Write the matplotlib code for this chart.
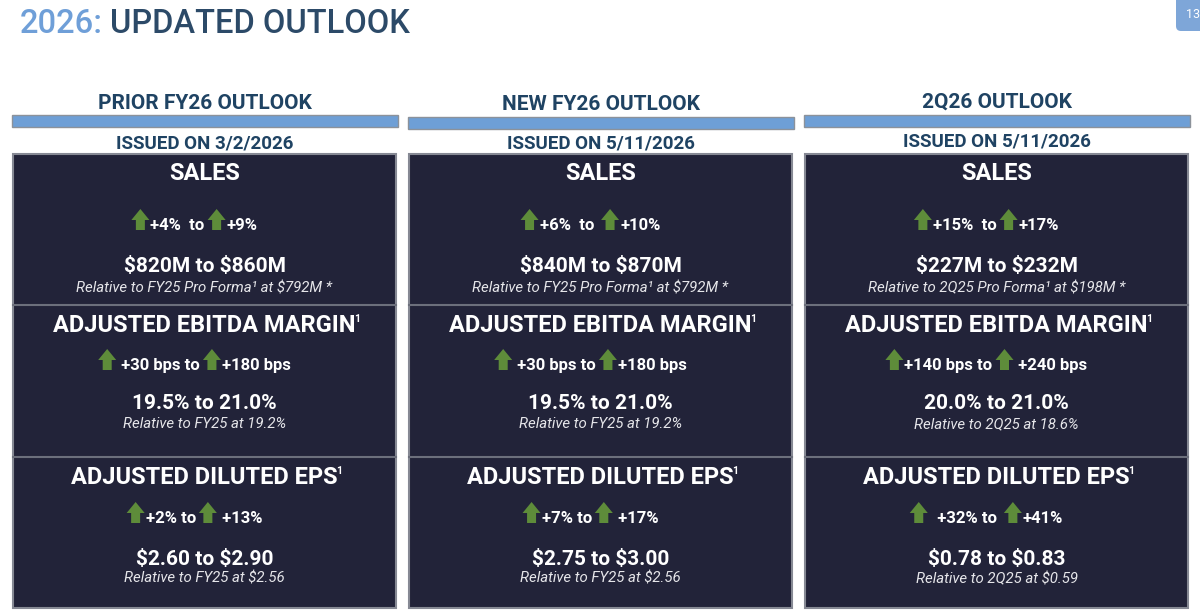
import matplotlib
matplotlib.use("Agg")
import matplotlib.pyplot as plt
from matplotlib.patches import Rectangle, Polygon, FancyBboxPatch

plt.rcParams['font.family'] = ['Roboto', 'DejaVu Sans']
plt.rcParams['text.parse_math'] = False

# ---- data ----
columns = ["PRIOR FY26 OUTLOOK", "NEW FY26 OUTLOOK", "2Q26 OUTLOOK"]
issued = ["ISSUED ON 3/2/2026", "ISSUED ON 5/11/2026", "ISSUED ON 5/11/2026"]

sections = ["SALES", "ADJUSTED EBITDA MARGIN", "ADJUSTED DILUTED EPS"]
section_note = ["", "1", "1"]

# growth lines: (low text, high text)
sales_growth = [("+4%  to", "+9%"), ("+6%  to ", "+10%"), ("+15%  to", "+17%")]
ebitda_growth = [(" +30 bps to", "+180 bps"), (" +30 bps to", "+180 bps"), ("+140 bps to", " +240 bps")]
eps_growth = [("+2% to", " +13%"), ("+7% to", " +17%"), ("  +32% to ", "+41%")]

sales_range = ["$820M to $860M", "$840M to $870M", "$227M to $232M"]
ebitda_range = ["19.5% to 21.0%", "19.5% to 21.0%", "20.0% to 21.0%"]
eps_range = ["$2.60 to $2.90", "$2.75 to $3.00", "$0.78 to $0.83"]

sales_rel = ["Relative to FY25 Pro Forma\u00b9 at $792M *",
             "Relative to FY25 Pro Forma\u00b9 at $792M *",
             "Relative to 2Q25 Pro Forma\u00b9 at $198M *"]
ebitda_rel = ["Relative to FY25 at 19.2%", "Relative to FY25 at 19.2%", "Relative to 2Q25 at 18.6%"]
eps_rel = ["Relative to FY25 at $2.56", "Relative to FY25 at $2.56", "Relative to 2Q25 at $0.59"]

growth = [sales_growth, ebitda_growth, eps_growth]
ranges = [sales_range, ebitda_range, eps_range]
rels = [sales_rel, ebitda_rel, eps_rel]

# ---- colours ----
NAVY = "#222339"
HEAD = "#1f4363"
BAR = "#6e9fd6"
GREEN = "#5e8c3a"
LIGHT = "#6f9fd8"
BORDER = "#868994"

fig = plt.figure(figsize=(12, 6.15), dpi=100)
ax = fig.add_axes([0, 0, 1, 1])
ax.set_xlim(0, 1200)
ax.set_ylim(615, 0)
ax.axis("off")

# title
t1 = ax.text(20, 33, "2026:", fontsize=23.5, fontweight="medium", color=LIGHT, va="baseline")
fig.canvas.draw()
r = fig.canvas.get_renderer()
inv = ax.transData.inverted()


def width_of(t):
    bb = t.get_window_extent(renderer=r)
    p0 = inv.transform((bb.x0, bb.y0))
    p1 = inv.transform((bb.x1, bb.y1))
    return p1[0] - p0[0]


x_after = 20 + width_of(t1)
ax.text(x_after + 7, 33, "UPDATED OUTLOOK", fontsize=23.5, fontweight="medium",
        color="#2c4a68", va="baseline")

# page number tab
ax.add_patch(FancyBboxPatch((1176, -10), 32, 41, boxstyle="round,pad=0,rounding_size=5",
                            fc="#7ea6d8", ec="none"))
ax.text(1186, 18, "13", fontsize=9, color="white", va="baseline", ha="left")

panel_x = [13, 409, 805]
panel_w = 383
header_base = [109, 110, 108]
bar_top = [115, 117, 115]
issued_base = [148, 149, 147]
top, bottom = 154, 608
dividers = [305, 457]

# baselines inside each section
title_base = [180, 332, 484]
grow_base = [230, 370, 523]
range_base = [272, 409, 565]
rel_base = [292, 428, 583]


def arrow(x, base):
    # block up-arrow with bottom on the text baseline
    w, h = 18, 21
    hh = 11
    sw = 9
    pts = [(x, base - h + hh), (x + w / 2, base - h), (x + w, base - h + hh),
           (x + w / 2 + sw / 2, base - h + hh), (x + w / 2 + sw / 2, base),
           (x + w / 2 - sw / 2, base), (x + w / 2 - sw / 2, base - h + hh)]
    ax.add_patch(Polygon(pts, closed=True, fc=GREEN, ec="none", zorder=3))
    return w


for c in range(3):
    x0 = panel_x[c]
    cx = x0 + panel_w / 2
    ax.text(cx, header_base[c], columns[c], fontsize=15, fontweight="bold", color=HEAD,
            ha="center", va="baseline")
    ax.add_patch(Rectangle((x0 - 1, bar_top[c]), panel_w + 3, 12, fc=BAR, ec="#8c929a", lw=1))
    ax.text(cx, issued_base[c], issued[c], fontsize=13.5, fontweight="bold", color=HEAD,
            ha="center", va="baseline")
    ax.add_patch(Rectangle((x0, top), panel_w, bottom - top, fc=NAVY, ec=BORDER, lw=1.5))
    for d in dividers:
        ax.plot([x0, x0 + panel_w], [d, d], color="#6c6f7c", lw=1.5)

    for s in range(3):
        ts = ax.text(cx, title_base[s], sections[s], fontsize=17, fontweight="bold", color="white",
                     ha="center", va="baseline")
        if section_note[s]:
            ax.text(cx + width_of(ts) / 2 - 2, title_base[s] - 10, section_note[s], fontsize=7.5,
                    fontweight="bold", color="white", ha="left", va="baseline")
        lo, hi = growth[s][c]
        ta = ax.text(0, grow_base[s], lo, fontsize=12, fontweight="bold", color="white",
                     va="baseline")
        tb = ax.text(0, grow_base[s], hi, fontsize=12, fontweight="bold", color="white",
                     va="baseline")
        wa, wb = width_of(ta), width_of(tb)
        aw, gap = 18, 1
        total = aw + gap + wa + 3 + aw + gap + wb
        xs = cx - 10 - total / 2
        arrow(xs, grow_base[s])
        ta.set_x(xs + aw + gap)
        xs2 = xs + aw + gap + wa + 3
        arrow(xs2, grow_base[s])
        tb.set_x(xs2 + aw + gap)
        ax.text(cx, range_base[s], ranges[s][c], fontsize=15, fontweight="bold", color="white",
                ha="center", va="baseline")
        ax.text(cx, rel_base[s], rels[s][c], fontsize=10.8, fontstyle="italic", color="#e6e6ea",
                ha="center", va="baseline")

fig.savefig("out.png", dpi=100)
